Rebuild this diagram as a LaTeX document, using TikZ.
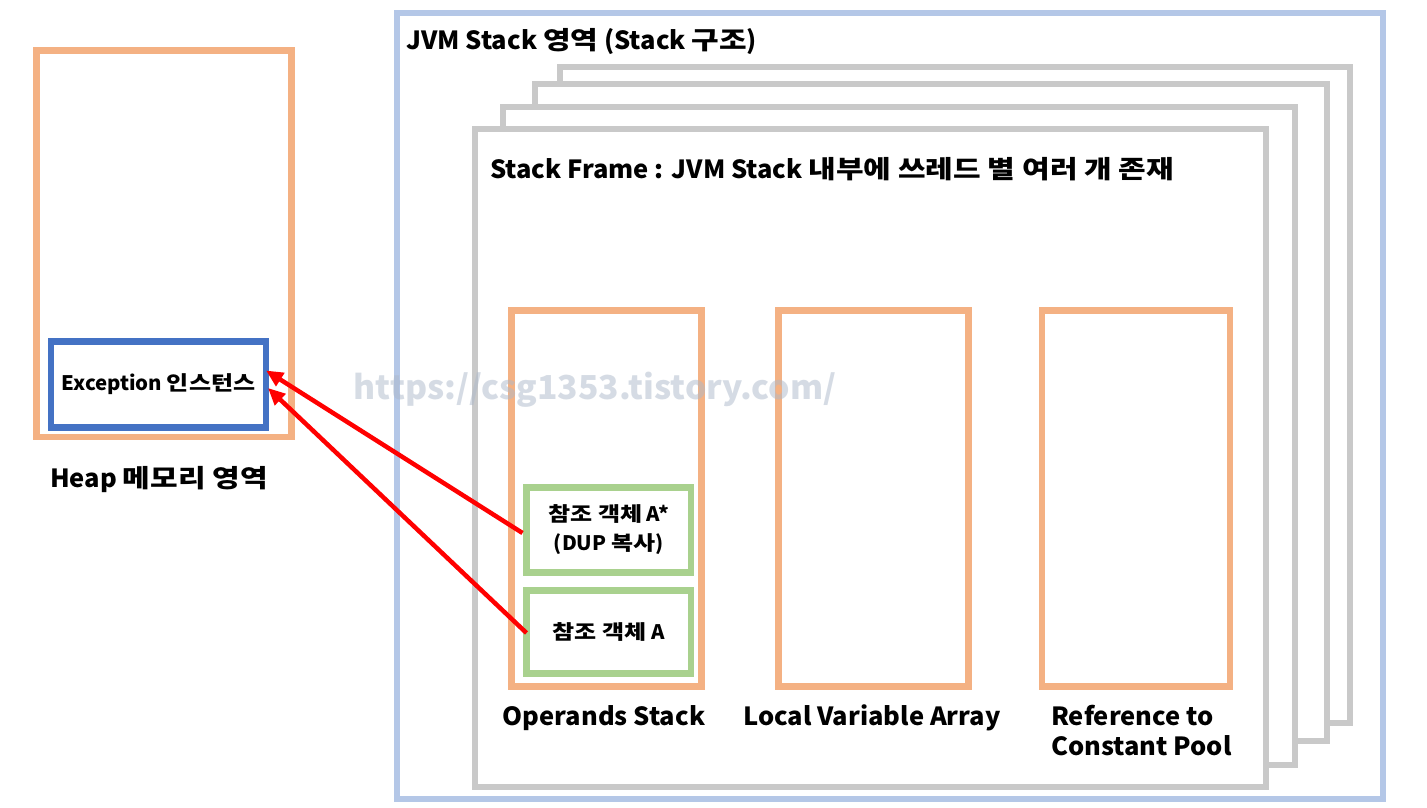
\documentclass[tikz,border=0pt]{standalone}
\usepackage{fontspec}
\setmainfont{Noto Sans CJK KR}[FakeStretch=1.02]
\newfontfamily\krfont{Noto Sans CJK KR}[FakeStretch=1.2]
\newcommand\kr[1]{{\krfont #1}}
\usetikzlibrary{arrows.meta,calc}
\definecolor{heaporange}{HTML}{F4B183}
\definecolor{excblue}{HTML}{4472C4}
\definecolor{jvmblue}{HTML}{B4C7E7}
\definecolor{framegray}{HTML}{C9C9C9}
\definecolor{refgreen}{HTML}{A9D18E}
\definecolor{wmark}{HTML}{ADB9CA}
\tikzset{
  box/.style={draw=#1, line width=6.5pt, fill=white, rectangle, inner sep=0pt, outer sep=0pt},
  bigtext/.style={font=\fontsize{25}{30}\selectfont\bfseries, inner sep=0pt},
  smalltext/.style={font=\fontsize{20}{29}\selectfont\bfseries, inner sep=0pt, align=center},
  redarrow/.style={draw=red, line width=4.5pt, -{Triangle[length=17pt,width=15pt]}},
}
\begin{document}
\begin{tikzpicture}[x=1pt,y=-1pt]
\useasboundingbox (0,0) rectangle (1427,808);
% heap
\node[box=heaporange, minimum width=255pt, minimum height=386.5pt] (heap) at (164,243.75) {};
\node[box=excblue, minimum width=215pt, minimum height=86pt, smalltext] (exc) at (158.5,384.5) {Exception \kr{인스턴스}};
\node[bigtext, anchor=base west] (heaplbl) at (50,487) {Heap \kr{메모리 영역}};
% JVM stack
\node[box=jvmblue, minimum width=986pt, minimum height=786pt] (jvm) at (890,406) {};
\node[bigtext, anchor=base west] (jvmlbl) at (406,49) {JVM Stack \kr{영역} (Stack \kr{구조})};
\node[box=framegray, minimum width=790pt, minimum height=656pt] (f4) at (955,395) {};
\node[box=framegray, minimum width=792pt, minimum height=657pt] (f3) at (931,412.5) {};
\node[box=framegray, minimum width=792pt, minimum height=658pt] (f2) at (899,436) {};
\node[box=framegray, minimum width=791pt, minimum height=658pt] (f1) at (870.5,458) {};
\node[bigtext, anchor=base west] (framelbl) at (490,178) {Stack Frame : JVM Stack \kr{내부에 쓰레드 별 여러 개 존재}};
% inner boxes
\node[box=heaporange, minimum width=190pt, minimum height=376pt] (ops) at (606.5,498.5) {};
\node[box=heaporange, minimum width=190pt, minimum height=376pt] (lva) at (873.5,498.5) {};
\node[box=heaporange, minimum width=188pt, minimum height=376pt] (ref) at (1136,498.5) {};
\node[box=refgreen, minimum width=164.5pt, minimum height=85pt, smalltext] (astar) at (608.75,530) {\kr{참조 객체} A*\\(DUP \kr{복사})};
\node[box=refgreen, minimum width=164.5pt, minimum height=83pt, smalltext] (a) at (608.75,632) {\kr{참조 객체} A};
\node[bigtext, anchor=base] (opslbl) at (604,725) {Operands Stack};
\node[bigtext, anchor=base] (lvalbl) at (872,725) {Local Variable Array};
\node[bigtext, anchor=base west] (reflbl) at (1051,725) {Reference to};
\node[bigtext, anchor=base west] (reflbl2) at (1051,755) {Constant Pool};
% arrows
\draw[redarrow] ($(astar.west)+(-4,3)$) -- ($(exc.east)+(0,-14)$);
\draw[redarrow] ($(a.west)+(0,1)$) -- ($(exc.east)+(2,3.5)$);
% watermark
\node[font=\fontsize{33}{40}\selectfont\bfseries, text=wmark, opacity=0.5, inner sep=0pt] (wm) at (595,390) {https://csg1353.tistory.com/};
\end{tikzpicture}
\end{document}
